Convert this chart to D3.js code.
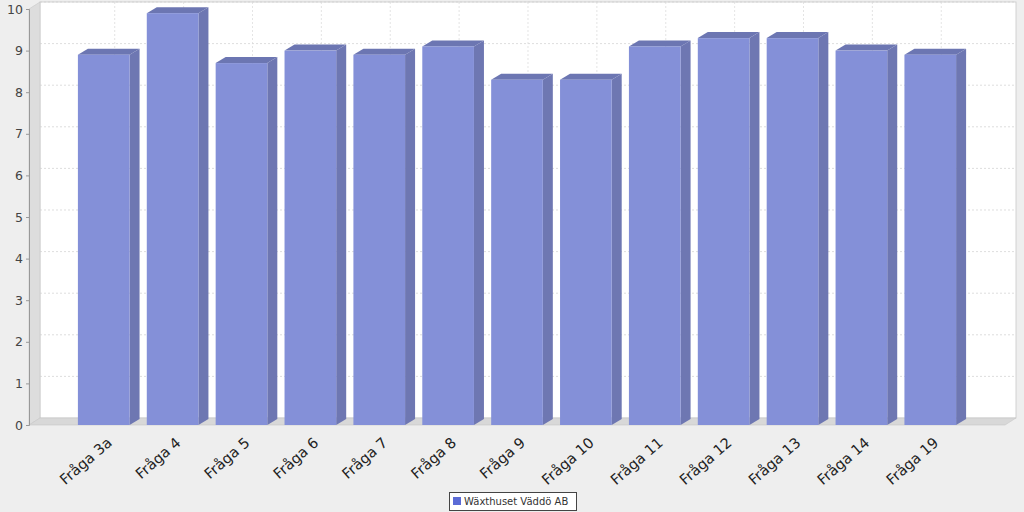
<!DOCTYPE html>
<html><head><meta charset="utf-8">
<script src="https://cdn.jsdelivr.net/npm/d3@7"></script>
<style>body{margin:0;background:#eeeeee;}svg{display:block;}</style>
</head><body>
<svg id="c" width="1024" height="512"></svg>
<script>
const categories = ["Fråga 3a","Fråga 4","Fråga 5","Fråga 6","Fråga 7","Fråga 8","Fråga 9","Fråga 10","Fråga 11","Fråga 12","Fråga 13","Fråga 14","Fråga 19"];
const values = [8.9, 9.9, 8.7, 9.0, 8.9, 9.1, 8.3, 8.3, 9.1, 9.3, 9.3, 9.0, 8.9];
const yTicks = [0,1,2,3,4,5,6,7,8,9,10];
const seriesName = "Wäxthuset Väddö AB";

const svg = d3.select("#c");
const W = 1024, H = 512;
svg.append("rect").attr("width",W).attr("height",H).attr("fill","#eeeeee");

const x0 = 29, x1 = 1005, yTop = 9, yBot = 425;
const DX = 11, DY = -7;   // wall depth
const bdx = 10, bdy = -6; // bar depth

const x = d3.scaleBand().domain(categories).range([x0, x1]).paddingInner(0.25).paddingOuter(0.71);
const y = d3.scaleLinear().domain([0,10]).range([yBot, yTop]);

// back wall
svg.append("rect").attr("x", x0+DX).attr("y", yTop+DY).attr("width", x1-x0).attr("height", yBot-yTop)
  .attr("fill","#ffffff").attr("stroke","#c8c8c8").attr("stroke-width",0.8);
// left wall
svg.append("path").attr("d", `M${x0},${yTop} L${x0+DX},${yTop+DY} L${x0+DX},${yBot+DY} L${x0},${yBot} Z`)
  .attr("fill","#dddddd").attr("stroke","#c8c8c8").attr("stroke-width",0.6);
// floor
svg.append("path").attr("d", `M${x0},${yBot} L${x0+DX},${yBot+DY} L${x1+DX},${yBot+DY} L${x1},${yBot} Z`)
  .attr("fill","#d8d8d8").attr("stroke","#c8c8c8").attr("stroke-width",0.6);

// gridlines on back wall
const g = svg.append("g");
yTicks.forEach(t => {
  if (t===0) return;
  g.append("line").attr("x1", x0+DX).attr("x2", x1+DX).attr("y1", y(t)+DY).attr("y2", y(t)+DY)
   .attr("stroke","#d0d0d0").attr("stroke-width",0.7).attr("stroke-dasharray","2,2");
});
categories.forEach(c => {
  const cx = x(c)+x.bandwidth()/2+DX;
  g.append("line").attr("x1", cx).attr("x2", cx).attr("y1", yTop+DY).attr("y2", yBot+DY)
   .attr("stroke","#d8d8d8").attr("stroke-width",0.7).attr("stroke-dasharray","2,2");
});

// bars
const bars = svg.append("g");
categories.forEach((c,i) => {
  const bx = x(c), bw = x.bandwidth(), by = y(values[i]);
  bars.append("path").attr("d", `M${bx+bw},${by} L${bx+bw+bdx},${by+bdy} L${bx+bw+bdx},${yBot+bdy} L${bx+bw},${yBot} Z`)
    .attr("fill","#6e77b2");
  bars.append("path").attr("d", `M${bx},${by} L${bx+bdx},${by+bdy} L${bx+bw+bdx},${by+bdy} L${bx+bw},${by} Z`)
    .attr("fill","#6c76b2");
  bars.append("rect").attr("x", bx).attr("y", by).attr("width", bw).attr("height", yBot-by)
    .attr("fill","#8490d8");
});

// y axis
const ya = svg.append("g").attr("transform", `translate(${x0},0)`)
  .call(d3.axisLeft(y).tickValues(yTicks).tickSize(3).tickPadding(3).tickFormat(d3.format("d")));
ya.select(".domain").attr("stroke","#999999");
ya.selectAll(".tick line").attr("stroke","#999999");
ya.selectAll("text").attr("font-family","DejaVu Sans, sans-serif").attr("font-size","12.5px").attr("fill","#444444");

// x labels
const xl = svg.append("g");
categories.forEach(c => {
  const cx = x(c)+x.bandwidth()/2;
  xl.append("text").attr("transform", `translate(${cx+2},${436}) rotate(-41)`)
    .attr("text-anchor","end").attr("dy","0.75em")
    .attr("font-family","DejaVu Sans, sans-serif").attr("font-size","14.5px").attr("fill","#222222")
    .text(c);
});

// legend
const lg = svg.append("g");
lg.append("rect").attr("x",449.5).attr("y",492.5).attr("width",127).attr("height",18)
  .attr("fill","#ffffff").attr("stroke","#444444").attr("stroke-width",1);
lg.append("rect").attr("x",453).attr("y",497).attr("width",8).attr("height",8).attr("fill","#5b6bd6");
lg.append("text").attr("x",464).attr("y",505).attr("font-family","DejaVu Sans, sans-serif")
  .attr("font-size","10px").attr("fill","#333333").text(seriesName);
</script>
</body></html>
